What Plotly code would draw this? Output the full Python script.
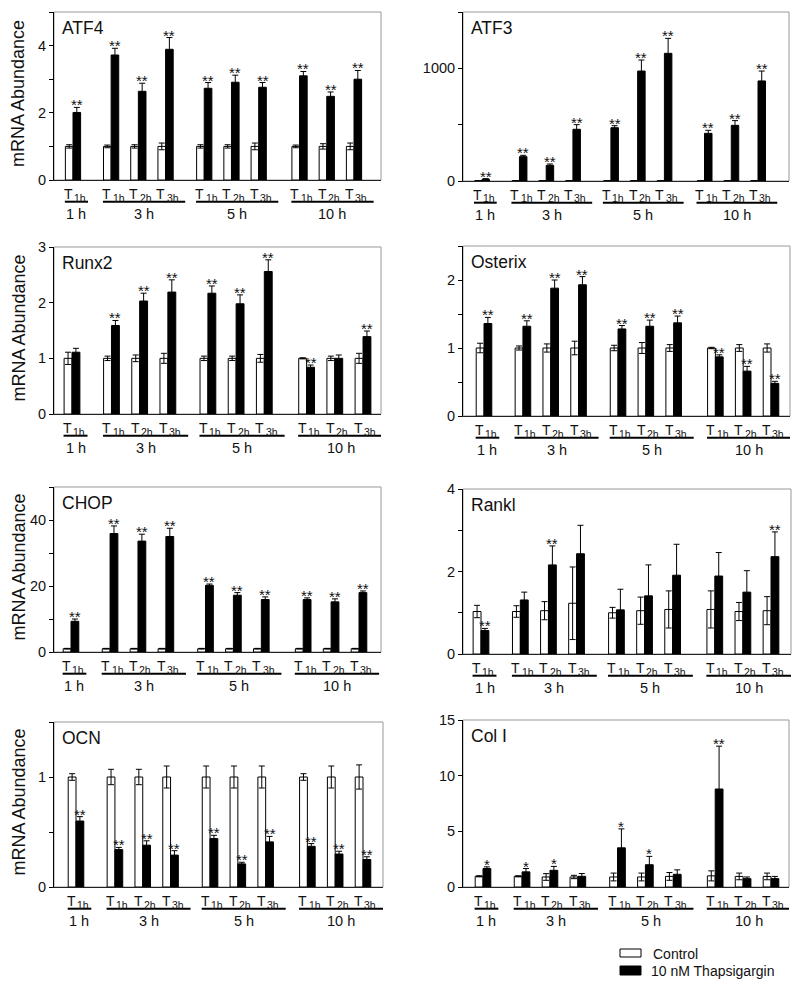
import plotly.graph_objects as go

FIG_W, FIG_H = 800, 987
FONT = "Liberation Sans, Arial, sans-serif"

# ---------------- data ----------------
group_labels = ["1 h", "3 h", "5 h", "10 h"]
group_sizes = [1, 3, 3, 3]
time_labels = ["1h", "1h", "2h", "3h", "1h", "2h", "3h", "1h", "2h", "3h"]
panel_names = ["ATF4", "ATF3", "Runx2", "Osterix", "CHOP", "Rankl", "OCN", "Col I"]
legend_labels = ["Control", "10 nM Thapsigargin"]

atf4_ctrl = [1.0, 1.0, 1.0, 1.0, 1.0, 1.0, 1.0, 1.0, 1.0, 1.0]
atf4_ctrl_err = [0.05, 0.04, 0.05, 0.1, 0.05, 0.05, 0.1, 0.04, 0.08, 0.1]
atf4_trt = [2.01, 3.72, 2.64, 3.89, 2.73, 2.91, 2.76, 3.10, 2.49, 3.00]
atf4_trt_err = [0.15, 0.2, 0.24, 0.35, 0.17, 0.21, 0.14, 0.13, 0.13, 0.26]
atf4_stars = ["**"] * 10

atf3_ctrl = [1, 1, 1, 1, 1, 1, 1, 1, 1, 1]
atf3_ctrl_err = [0, 0, 0, 0, 0, 0, 0, 0, 0, 0]
atf3_trt = [15, 216, 139, 459, 473, 976, 1133, 423, 494, 888]
atf3_trt_err = [6, 12, 12, 41, 18, 98, 133, 27, 42, 88]
atf3_stars = ["**"] * 10

runx2_ctrl = [1.0, 1.0, 1.0, 1.0, 1.0, 1.0, 1.0, 1.0, 1.0, 1.0]
runx2_ctrl_err = [0.11, 0.04, 0.06, 0.09, 0.04, 0.04, 0.07, 0.01, 0.04, 0.09]
runx2_trt = [1.11, 1.59, 2.03, 2.19, 2.17, 1.98, 2.56, 0.84, 1.0, 1.39]
runx2_trt_err = [0.07, 0.09, 0.14, 0.22, 0.13, 0.16, 0.21, 0.04, 0.06, 0.10]
runx2_stars = ["", "**", "**", "**", "**", "**", "**", "**", "", "**"]

osx_ctrl = [1.0, 1.0, 1.0, 1.0, 1.0, 1.0, 1.0, 1.0, 1.0, 1.0]
osx_ctrl_err = [0.07, 0.03, 0.06, 0.1, 0.04, 0.08, 0.05, 0.01, 0.05, 0.06]
osx_trt = [1.36, 1.32, 1.88, 1.93, 1.28, 1.32, 1.37, 0.87, 0.66, 0.48]
osx_trt_err = [0.09, 0.08, 0.12, 0.12, 0.05, 0.09, 0.1, 0.03, 0.07, 0.03]
osx_stars = ["**"] * 10

chop_ctrl = [1, 1, 1, 1, 1, 1, 1, 1, 1, 1]
chop_ctrl_err = [0.1, 0.1, 0.1, 0.1, 0.1, 0.1, 0.1, 0.1, 0.1, 0.1]
chop_trt = [9.3, 35.9, 33.6, 35.0, 20.2, 17.2, 15.9, 15.9, 15.2, 18.0]
chop_trt_err = [0.7, 2.3, 2.1, 2.5, 0.4, 0.8, 0.8, 0.5, 0.9, 0.5]
chop_stars = ["**"] * 10

rankl_ctrl = [1.03, 1.03, 1.05, 1.23, 1.0, 1.05, 1.08, 1.08, 1.03, 1.05]
rankl_ctrl_err = [0.15, 0.14, 0.22, 0.88, 0.13, 0.33, 0.45, 0.45, 0.22, 0.34]
rankl_trt = [0.57, 1.31, 2.16, 2.43, 1.07, 1.41, 1.91, 1.89, 1.50, 2.36]
rankl_trt_err = [0.05, 0.19, 0.46, 0.69, 0.5, 0.75, 0.75, 0.57, 0.52, 0.6]
rankl_stars = ["**", "", "**", "", "", "", "", "", "", "**"]

ocn_ctrl = [1.0, 1.0, 1.0, 1.0, 1.0, 1.0, 1.0, 1.0, 1.0, 1.0]
ocn_ctrl_err = [0.03, 0.07, 0.07, 0.1, 0.1, 0.1, 0.1, 0.03, 0.1, 0.11]
ocn_trt = [0.60, 0.34, 0.38, 0.29, 0.44, 0.21, 0.41, 0.37, 0.30, 0.25]
ocn_trt_err = [0.04, 0.02, 0.04, 0.04, 0.03, 0.015, 0.05, 0.025, 0.025, 0.025]
ocn_stars = ["**"] * 10

col1_ctrl = [0.96, 0.96, 0.9, 0.9, 0.9, 0.9, 0.95, 1.0, 0.95, 0.95]
col1_ctrl_err = [0.05, 0.05, 0.3, 0.15, 0.35, 0.35, 0.35, 0.45, 0.3, 0.3]
col1_trt = [1.66, 1.36, 1.5, 0.96, 3.52, 2.0, 1.14, 8.8, 0.75, 0.75]
col1_trt_err = [0.15, 0.3, 0.35, 0.25, 1.7, 0.75, 0.4, 3.85, 0.15, 0.2]
col1_stars = ["*", "*", "*", "", "*", "*", "", "**", "", ""]

# y-axis settings: (max, tick step, labelled tick step)
atf4_axis = [5, 1, 2]
atf3_axis = [1500, 500, 1000]
runx2_axis = [3, 1, 1]
osx_axis = [2.5, 0.5, 1]
chop_axis = [50, 10, 20]
rankl_axis = [4, 1, 2]
ocn_axis = [1.5, 0.5, 1]
col1_axis = [15, 5, 5]

panel_data = [
    (atf4_ctrl, atf4_ctrl_err, atf4_trt, atf4_trt_err, atf4_stars, atf4_axis),
    (atf3_ctrl, atf3_ctrl_err, atf3_trt, atf3_trt_err, atf3_stars, atf3_axis),
    (runx2_ctrl, runx2_ctrl_err, runx2_trt, runx2_trt_err, runx2_stars, runx2_axis),
    (osx_ctrl, osx_ctrl_err, osx_trt, osx_trt_err, osx_stars, osx_axis),
    (chop_ctrl, chop_ctrl_err, chop_trt, chop_trt_err, chop_stars, chop_axis),
    (rankl_ctrl, rankl_ctrl_err, rankl_trt, rankl_trt_err, rankl_stars, rankl_axis),
    (ocn_ctrl, ocn_ctrl_err, ocn_trt, ocn_trt_err, ocn_stars, ocn_axis),
    (col1_ctrl, col1_ctrl_err, col1_trt, col1_trt_err, col1_stars, col1_axis),
]

# ---------------- layout geometry (pixels) ----------------
# left, right, top, bottom, first pair centre, last pair centre
panel_px = [
    (54, 381, 12, 180, 73, 354),
    (463, 789, 12, 181, 482, 758),
    (54, 381, 247, 414, 72, 363),
    (463, 790, 246, 416, 484, 771),
    (54, 381, 487, 652, 71, 359),
    (463, 791, 489, 654, 481, 771),
    (54, 383, 722, 887, 76, 363),
    (463, 789, 720, 887, 483, 771),
]
group_gaps = [1.4, 1.42, 1.5]

positions = []
cur = 0.0
group_spans = []
for gi, n in enumerate(group_sizes):
    if gi > 0:
        cur += group_gaps[gi - 1] - 1.0
    start = cur
    for k in range(n):
        positions.append(cur)
        cur += 1.0
    group_spans.append((start, cur - 1.0))
last_pos = positions[-1]

BAR_W = 0.28

fig = go.Figure()
annotations = []
shapes = []
layout_axes = {}


def px_x(p):
    return p / FIG_W


def px_y(p):
    return 1 - p / FIG_H


for i, (name, data, geo) in enumerate(zip(panel_names, panel_data, panel_px), start=1):
    ctrl, ctrl_err, trt, trt_err, stars, yax = data
    left, right, top, bottom, c0, c1 = geo
    wpx, hpx = right - left, bottom - top
    unit = (c1 - c0) / last_pos
    xr = [-(c0 - left) / unit, last_pos + (right - c1) / unit]
    sfx = "" if i == 1 else str(i)
    xa, ya = "x" + sfx, "y" + sfx

    fig.add_trace(go.Bar(
        x=[p - BAR_W / 2 for p in positions], y=ctrl, width=BAR_W,
        marker=dict(color="white", line=dict(color="black", width=1)),
        error_y=dict(type="data", array=ctrl_err, color="black", thickness=1, width=3),
        xaxis=xa, yaxis=ya, showlegend=False, name=legend_labels[0]))
    fig.add_trace(go.Bar(
        x=[p + BAR_W / 2 for p in positions], y=trt, width=BAR_W,
        marker=dict(color="black", line=dict(color="black", width=1)),
        error_y=dict(type="data", array=trt_err, color="black", thickness=1, width=3),
        xaxis=xa, yaxis=ya, showlegend=False, name=legend_labels[1]))

    ymax, step, lstep = yax
    nt = int(round(ymax / step))
    tickvals = [k * step for k in range(nt + 1)]
    ticktext = []
    for v in tickvals:
        r = v / lstep
        ticktext.append(("%g" % v) if abs(r - round(r)) < 1e-9 else "")

    layout_axes["xaxis" + sfx] = dict(
        domain=[px_x(left), px_x(right)], range=xr, anchor=ya, automargin=False,
        showline=True, linecolor="#222", linewidth=1, showgrid=False,
        zeroline=False, showticklabels=False, ticks="", fixedrange=True)
    layout_axes["yaxis" + sfx] = dict(
        domain=[px_y(bottom), px_y(top)], range=[0, ymax], anchor=xa, automargin=False,
        showline=True, linecolor="black", linewidth=1, showgrid=False,
        zeroline=False, tickmode="array", tickvals=tickvals, ticktext=ticktext,
        ticks="outside", ticklen=4, tickcolor="black",
        tickfont=dict(family=FONT, size=14.5, color="#111"), fixedrange=True)

    # gray frame
    shapes.append(dict(type="rect", xref=xa + " domain", yref=ya + " domain",
                       x0=0, x1=1, y0=0, y1=1, line=dict(color="#999", width=1),
                       layer="below"))
    # panel label
    annotations.append(dict(text=name, xref=xa + " domain", yref=ya + " domain",
                            x=6 / wpx, y=1 - 16 / hpx, xanchor="left", yanchor="middle",
                            showarrow=False, font=dict(family=FONT, size=17.5, color="#111")))
    # stars
    for p, v, e, s in zip(positions, trt, trt_err, stars):
        if s:
            annotations.append(dict(text=s, xref=xa, yref=ya, x=p + BAR_W / 2, y=v + e,
                                    xanchor="center", yanchor="bottom", yshift=-8,
                                    showarrow=False,
                                    font=dict(family=FONT, size=15, color="#111")))
    # time labels: "T" plus a lowered small suffix
    for p, t in zip(positions, time_labels):
        annotations.append(dict(text="T", xref=xa, yref=ya + " domain",
                                x=p + 0.07, y=-4 / hpx, xanchor="right", yanchor="top",
                                showarrow=False,
                                font=dict(family=FONT, size=14, color="#111")))
        annotations.append(dict(text=t, xref=xa, yref=ya + " domain",
                                x=p - 0.02, y=-9.5 / hpx, xanchor="left", yanchor="top",
                                showarrow=False,
                                font=dict(family=FONT, size=10.5, color="#111")))
    # group underlines and labels
    for (g0, g1), gl, n in zip(group_spans, group_labels, group_sizes):
        x0 = g0 - 0.3
        x1 = g1 + (0.55 if n == 1 else 0.72)
        shapes.append(dict(type="line", xref=xa, yref=ya + " domain",
                           x0=x0, x1=x1, y0=-21.7 / hpx, y1=-21.7 / hpx,
                           line=dict(color="black", width=2)))
        annotations.append(dict(text=gl, xref=xa, yref=ya + " domain",
                                x=(x0 + x1) / 2, y=-24 / hpx, xanchor="center",
                                yanchor="top", showarrow=False,
                                font=dict(family=FONT, size=14.5, color="#111")))
    # y title on left column
    if left < 400:
        annotations.append(dict(text="mRNA Abundance", xref="paper", yref="paper",
                                x=px_x(18), y=px_y((top + bottom) / 2 - 2),
                                xanchor="center", yanchor="middle", textangle=-90,
                                showarrow=False,
                                font=dict(family=FONT, size=18, color="#111")))

# legend (manual)
shapes.append(dict(type="rect", xref="paper", yref="paper",
                   x0=px_x(620), x1=px_x(641), y0=px_y(957), y1=px_y(949),
                   line=dict(color="black", width=1), fillcolor="white"))
shapes.append(dict(type="rect", xref="paper", yref="paper",
                   x0=px_x(620), x1=px_x(641), y0=px_y(975), y1=px_y(966),
                   line=dict(color="black", width=1), fillcolor="black"))
annotations.append(dict(text=legend_labels[0], xref="paper", yref="paper",
                        x=px_x(651), y=px_y(954), xanchor="left", yanchor="middle",
                        showarrow=False, font=dict(family=FONT, size=14, color="#111")))
annotations.append(dict(text=legend_labels[1], xref="paper", yref="paper",
                        x=px_x(649), y=px_y(971), xanchor="left", yanchor="middle",
                        showarrow=False, font=dict(family=FONT, size=14, color="#111")))

fig.update_layout(
    template="none",
    width=FIG_W, height=FIG_H, margin=dict(l=0, r=0, t=0, b=0, pad=0),
    paper_bgcolor="white", plot_bgcolor="white", barmode="overlay",
    showlegend=False, annotations=annotations, shapes=shapes,
    font=dict(family=FONT, color="#111"), **layout_axes)

fig.write_html(
    "out.html",
    config={"displayModeBar": False, "staticPlot": True},
    post_script="document.body.style.margin='0px';document.body.style.overflow='hidden';")
